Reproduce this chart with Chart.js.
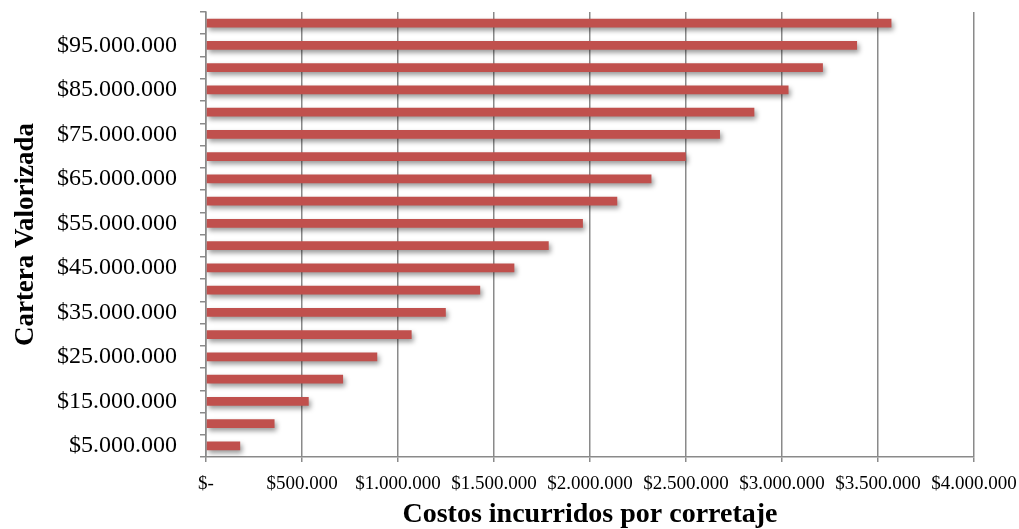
<!DOCTYPE html>
<html>
<head>
<meta charset="utf-8">
<script src="https://cdn.jsdelivr.net/npm/chart.js@4.4.1/dist/chart.umd.min.js"></script>
<style>
  html, body { margin: 0; padding: 0; background: #ffffff; }
  #wrap { width: 1019px; height: 529px; }
</style>
</head>
<body>
<div id="wrap"><canvas id="costChart" width="1019" height="529"></canvas></div>
<script>
// cartera valorizada (de abajo hacia arriba)
const carteraLabels = [
    '$5.000.000', '$10.000.000', '$15.000.000', '$20.000.000', '$25.000.000',
    '$30.000.000', '$35.000.000', '$40.000.000', '$45.000.000', '$50.000.000',
    '$55.000.000', '$60.000.000', '$65.000.000', '$70.000.000', '$75.000.000',
    '$80.000.000', '$85.000.000', '$90.000.000', '$95.000.000', '$100.000.000'
];

// costos incurridos por corretaje
const costos = [
    178000, 357000, 535000, 714000, 892000,
    1071000, 1249000, 1428000, 1606000, 1785000,
    1963000, 2142000, 2320000, 2499000, 2677000,
    2856000, 3034000, 3213000, 3391000, 3570000
];

// etiquetas del eje x
const costoTicks = [
    '$-', '$500.000', '$1.000.000', '$1.500.000', '$2.000.000',
    '$2.500.000', '$3.000.000', '$3.500.000', '$4.000.000'
];

const gridColor = '#8a8a8a';

// sombra suave bajo las barras
const barShadow = {
    id: 'barShadow',
    beforeDatasetsDraw(chart) {
        const ctx = chart.ctx;
        ctx.save();
        ctx.shadowColor = 'rgba(0, 0, 0, 0.4)';
        ctx.shadowBlur = 5;
        ctx.shadowOffsetX = 2;
        ctx.shadowOffsetY = 3;
    },
    afterDatasetsDraw(chart) {
        chart.ctx.restore();
    }
};

const ctx = document.getElementById('costChart').getContext('2d');
new Chart(ctx, {
    type: 'bar',
    data: {
        labels: carteraLabels,
        datasets: [{
            data: costos,
            backgroundColor: '#C0504D',
            borderWidth: 0,
            categoryPercentage: 1,
            barPercentage: 0.4
        }]
    },
    plugins: [barShadow],
    options: {
        indexAxis: 'y',
        responsive: false,
        animation: false,
        devicePixelRatio: 1,
        layout: { padding: { top: 12, right: 45, left: 0, bottom: 0 } },
        plugins: {
            legend: { display: false },
            tooltip: { enabled: false }
        },
        scales: {
            x: {
                min: 0,
                max: 4000000,
                ticks: {
                    stepSize: 500000,
                    autoSkip: false,
                    maxRotation: 0,
                    padding: 11,
                    color: '#000000',
                    font: { family: 'Liberation Serif', size: 19 },
                    callback: (value, index) => costoTicks[index]
                },
                grid: {
                    color: gridColor,
                    lineWidth: 1.5,
                    tickLength: 5,
                    drawOnChartArea: true
                },
                border: { color: gridColor, width: 1.5 },
                title: {
                    display: true,
                    text: 'Costos incurridos por corretaje',
                    color: '#000000',
                    font: { family: 'Liberation Serif', size: 28, weight: 'bold' },
                    padding: { top: 0, bottom: -3 }
                },
                afterFit(scale) {
                    scale.height = 72;
                    scale.paddingLeft = 0;
                    scale.paddingRight = 0;
                }
            },
            y: {
                reverse: true,
                ticks: {
                    autoSkip: false,
                    padding: 23,
                    color: '#000000',
                    font: { family: 'Liberation Serif', size: 24 },
                    callback: (value, index) => index % 2 === 0 ? carteraLabels[index] : ''
                },
                grid: {
                    color: gridColor,
                    lineWidth: 1.5,
                    tickLength: 6,
                    offset: true,
                    drawOnChartArea: false
                },
                border: { color: gridColor, width: 1.5 },
                title: {
                    display: true,
                    text: 'Cartera Valorizada',
                    color: '#000000',
                    font: { family: 'Liberation Serif', size: 27, weight: 'bold' },
                    padding: { top: 10, bottom: 0 }
                },
                afterFit(scale) {
                    scale.width = 206;
                    scale.paddingTop = 0;
                    scale.paddingBottom = 0;
                }
            }
        }
    }
});
</script>
</body>
</html>
